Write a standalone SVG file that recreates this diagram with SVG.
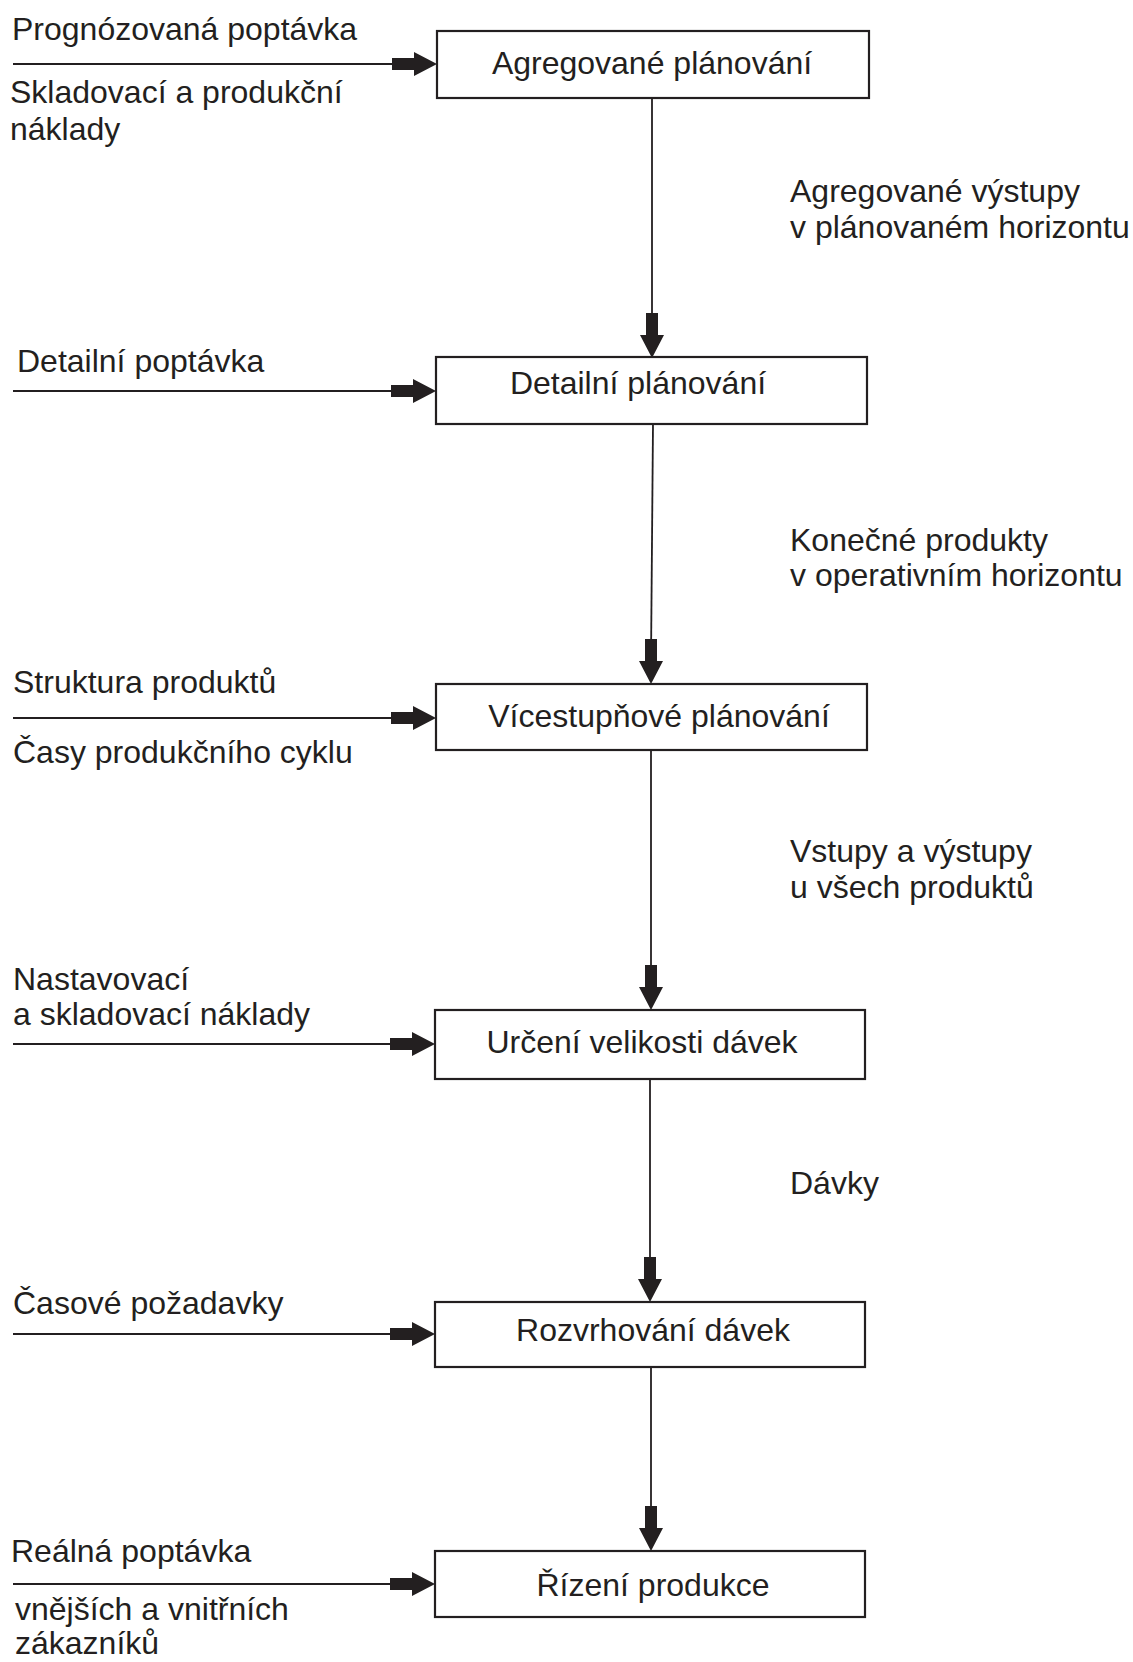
<svg xmlns="http://www.w3.org/2000/svg" xmlns:xlink="http://www.w3.org/1999/xlink" width="1133" height="1662" viewBox="0 0 1133 1662">
<style>
text{font-family:"Liberation Sans",Arial,sans-serif;font-size:32px;fill:#231f20}
.c{text-anchor:middle}
.box{fill:#fff;stroke:#231f20;stroke-width:2.2}
.ln{stroke:#231f20;stroke-width:1.8;fill:none}
.ah{fill:#231f20}
</style>
<defs>
<path id="ah" class="ah" d="M-45,-6 H-23 V-12 L0,0 L-23,12 V6 H-45 Z"/>
</defs>
<rect width="1133" height="1662" fill="#fff"/>
<g id="connectors">
<line class="ln" x1="13" y1="64" x2="420" y2="64"/>
<use xlink:href="#ah" transform="translate(437,64)"/>
<line class="ln" x1="13" y1="391" x2="420" y2="391"/>
<use xlink:href="#ah" transform="translate(436,391)"/>
<line class="ln" x1="13" y1="718" x2="420" y2="718"/>
<use xlink:href="#ah" transform="translate(436,718)"/>
<line class="ln" x1="13" y1="1044" x2="420" y2="1044"/>
<use xlink:href="#ah" transform="translate(435,1044)"/>
<line class="ln" x1="13" y1="1334" x2="420" y2="1334"/>
<use xlink:href="#ah" transform="translate(435,1334)"/>
<line class="ln" x1="13" y1="1584" x2="420" y2="1584"/>
<use xlink:href="#ah" transform="translate(435,1584)"/>
<line class="ln" x1="652" y1="98" x2="652" y2="330"/>
<use xlink:href="#ah" transform="translate(652,358) rotate(90)"/>
<line class="ln" x1="653" y1="424" x2="651" y2="660"/>
<use xlink:href="#ah" transform="translate(651,684) rotate(90)"/>
<line class="ln" x1="651" y1="750" x2="651" y2="985"/>
<use xlink:href="#ah" transform="translate(651,1010) rotate(90)"/>
<line class="ln" x1="650" y1="1079" x2="650" y2="1280"/>
<use xlink:href="#ah" transform="translate(650,1302) rotate(90)"/>
<line class="ln" x1="651" y1="1367" x2="651" y2="1530"/>
<use xlink:href="#ah" transform="translate(651,1551) rotate(90)"/>
</g>
<g id="n1"><rect class="box" x="437" y="31" width="432" height="67"/><text class="c" x="652" y="74">Agregované plánování</text></g>
<g id="n2"><rect class="box" x="436" y="357" width="431" height="67"/><text class="c" x="638" y="394">Detailní plánování</text></g>
<g id="n3"><rect class="box" x="436" y="684" width="431" height="66"/><text class="c" x="659" y="727">Vícestupňové plánování</text></g>
<g id="n4"><rect class="box" x="435" y="1010" width="430" height="69"/><text class="c" x="642" y="1053">Určení velikosti dávek</text></g>
<g id="n5"><rect class="box" x="435" y="1302" width="430" height="65"/><text class="c" x="653" y="1341">Rozvrhování dávek</text></g>
<g id="n6"><rect class="box" x="435" y="1551" width="430" height="66"/><text class="c" x="653" y="1596">Řízení produkce</text></g>
<g id="labels">
<text x="12" y="40">Prognózovaná poptávka</text>
<text x="10" y="103">Skladovací a produkční</text>
<text x="10" y="140">náklady</text>
<text x="17" y="372">Detailní poptávka</text>
<text x="13" y="693">Struktura produktů</text>
<text x="13" y="763">Časy produkčního cyklu</text>
<text x="13" y="990">Nastavovací</text>
<text x="13" y="1025">a skladovací náklady</text>
<text x="13" y="1314">Časové požadavky</text>
<text x="11" y="1562">Reálná poptávka</text>
<text x="15" y="1620">vnějších a vnitřních</text>
<text x="15" y="1654">zákazníků</text>
<text x="790" y="202">Agregované výstupy</text>
<text x="790" y="238">v plánovaném horizontu</text>
<text x="790" y="551">Konečné produkty</text>
<text x="790" y="586">v operativním horizontu</text>
<text x="790" y="862">Vstupy a výstupy</text>
<text x="790" y="898">u všech produktů</text>
<text x="790" y="1194">Dávky</text>
</g>
</svg>
